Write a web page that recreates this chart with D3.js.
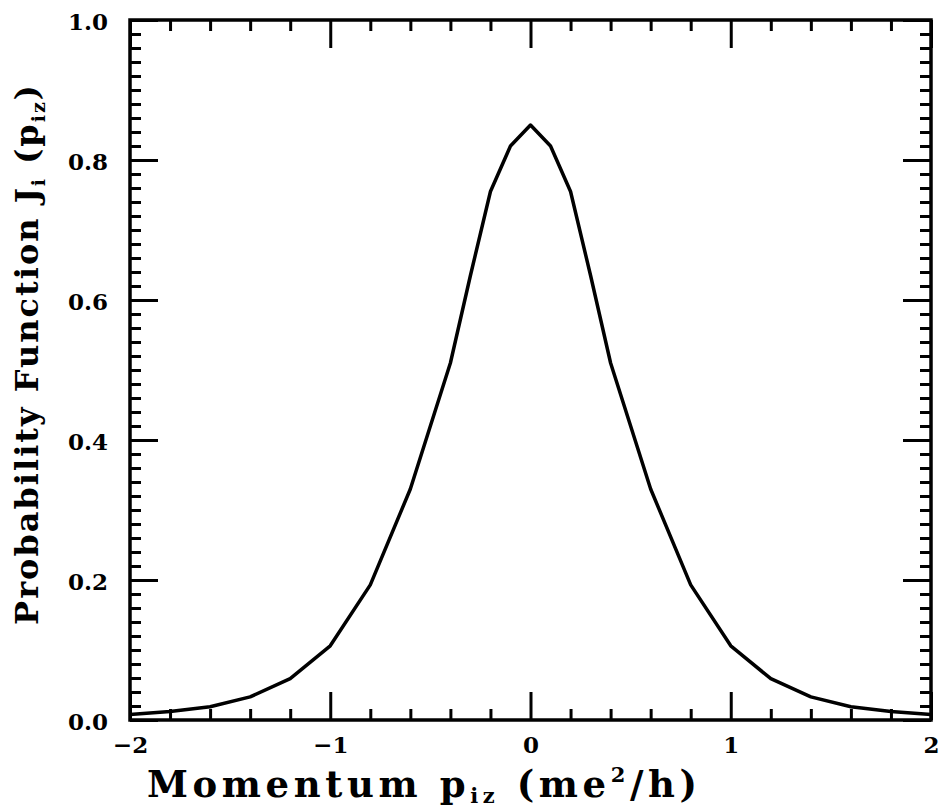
<!DOCTYPE html>
<html>
<head>
<meta charset="utf-8">
<script src="https://cdn.jsdelivr.net/npm/d3@7"></script>
<style>
  body { margin: 0; background: #fff; }
  #chart { width: 939px; height: 811px; }
  text { font-family: "DejaVu Serif", serif; font-weight: bold; fill: #000; }
</style>
</head>
<body>
<div id="chart"></div>
<script>
// momentum grid and profile values
const momentum = [-2, -1.8, -1.6, -1.4, -1.2, -1, -0.8, -0.6, -0.4, -0.3, -0.2, -0.1, 0,
                  0.1, 0.2, 0.3, 0.4, 0.6, 0.8, 1, 1.2, 1.4, 1.6, 1.8, 2];
const profile = [0.008, 0.012, 0.019, 0.033, 0.059, 0.106, 0.193, 0.33, 0.51, 0.635, 0.755, 0.82, 0.85,
                 0.82, 0.755, 0.635, 0.51, 0.33, 0.193, 0.106, 0.059, 0.033, 0.019, 0.012, 0.008];
const xMajor = [-2, -1, 0, 1, 2];
const yMajor = [0, 0.2, 0.4, 0.6, 0.8, 1.0];

(() => {
    const sel = d3.select("#chart");
    const W = 939, H = 811;
    const m = { top: 20, right: 8, bottom: 91, left: 130 };
    const w = W - m.left - m.right;
    const h = H - m.top - m.bottom;

    const svg = sel.append("svg").attr("width", W).attr("height", H);
    const g = svg.append("g").attr("transform", `translate(${m.left},${m.top})`);

    const x = d3.scaleLinear().domain([-2, 2]).range([0, w]);
    const y = d3.scaleLinear().domain([0, 1]).range([h, 0]);

    const xMinor = d3.range(-20, 21, 2).map(d => d / 10).filter(d => !xMajor.includes(d));
    const yMinor = d3.range(0, 51).map(d => d / 50).filter(d => !yMajor.some(v => Math.abs(v - d) < 1e-9));

    const MAJ = 28, MIN = 11;
    const tickStyle = a => a.call(s => s.select(".domain").remove())
        .call(s => s.selectAll("line").attr("stroke", "#000").attr("stroke-width", 3));

    // minor ticks, all four sides, pointing inwards
    g.append("g").attr("transform", `translate(0,${h})`)
        .call(d3.axisBottom(x).tickValues(xMinor).tickSize(-MIN).tickFormat("")).call(tickStyle);
    g.append("g")
        .call(d3.axisTop(x).tickValues(xMinor).tickSize(-MIN).tickFormat("")).call(tickStyle);
    g.append("g")
        .call(d3.axisLeft(y).tickValues(yMinor).tickSize(-MIN).tickFormat("")).call(tickStyle);
    g.append("g").attr("transform", `translate(${w},0)`)
        .call(d3.axisRight(y).tickValues(yMinor).tickSize(-MIN).tickFormat("")).call(tickStyle);

    // major ticks with labels on bottom and left
    const xa = g.append("g").attr("transform", `translate(0,${h})`)
        .call(d3.axisBottom(x).tickValues(xMajor).tickSize(-MAJ).tickPadding(0).tickFormat(d3.format("d")))
        .call(tickStyle);
    xa.selectAll("text").attr("y", 33).attr("dy", 0).style("font-size", "23px");

    g.append("g")
        .call(d3.axisTop(x).tickValues(xMajor).tickSize(-MAJ).tickFormat("")).call(tickStyle);

    const ya = g.append("g")
        .call(d3.axisLeft(y).tickValues(yMajor).tickSize(-MAJ).tickFormat(d3.format(".1f")))
        .call(tickStyle);
    ya.selectAll("text").attr("x", -22).attr("dy", "0.4em").style("font-size", "23px");

    g.append("g").attr("transform", `translate(${w},0)`)
        .call(d3.axisRight(y).tickValues(yMajor).tickSize(-MAJ).tickFormat("")).call(tickStyle);

    // frame
    g.append("rect").attr("width", w).attr("height", h)
        .attr("fill", "none").attr("stroke", "#000").attr("stroke-width", 3.5);

    // curve
    const line = d3.line().x((d, i) => x(momentum[i])).y(d => y(d));
    g.append("path").datum(profile)
        .attr("d", line)
        .attr("fill", "none").attr("stroke", "#000")
        .attr("stroke-width", 3.5).attr("stroke-linejoin", "round");

    // x title
    const xt = svg.append("text")
        .attr("x", 147).attr("y", 797)
        .style("font-size", "37px").style("letter-spacing", "4.6px");
    xt.append("tspan").text("Momentum p");
    xt.append("tspan").attr("dy", 6).style("font-size", "21px").text("iz");
    xt.append("tspan").attr("dy", -6).text(" (me");
    xt.append("tspan").attr("dy", -15).style("font-size", "21px").text("2");
    xt.append("tspan").attr("dy", 15).text("/h)");

    // y title
    const yt = svg.append("text")
        .attr("transform", `translate(38,354) rotate(-90)`)
        .attr("text-anchor", "middle")
        .style("font-size", "32px").style("letter-spacing", "2px");
    yt.append("tspan").text("Probability Function J");
    yt.append("tspan").attr("dy", 7).style("font-size", "19px").text("i");
    yt.append("tspan").attr("dy", -7).text(" (p");
    yt.append("tspan").attr("dy", 7).style("font-size", "19px").text("iz");
    yt.append("tspan").attr("dy", -7).text(")");
})();
</script>
</body>
</html>
